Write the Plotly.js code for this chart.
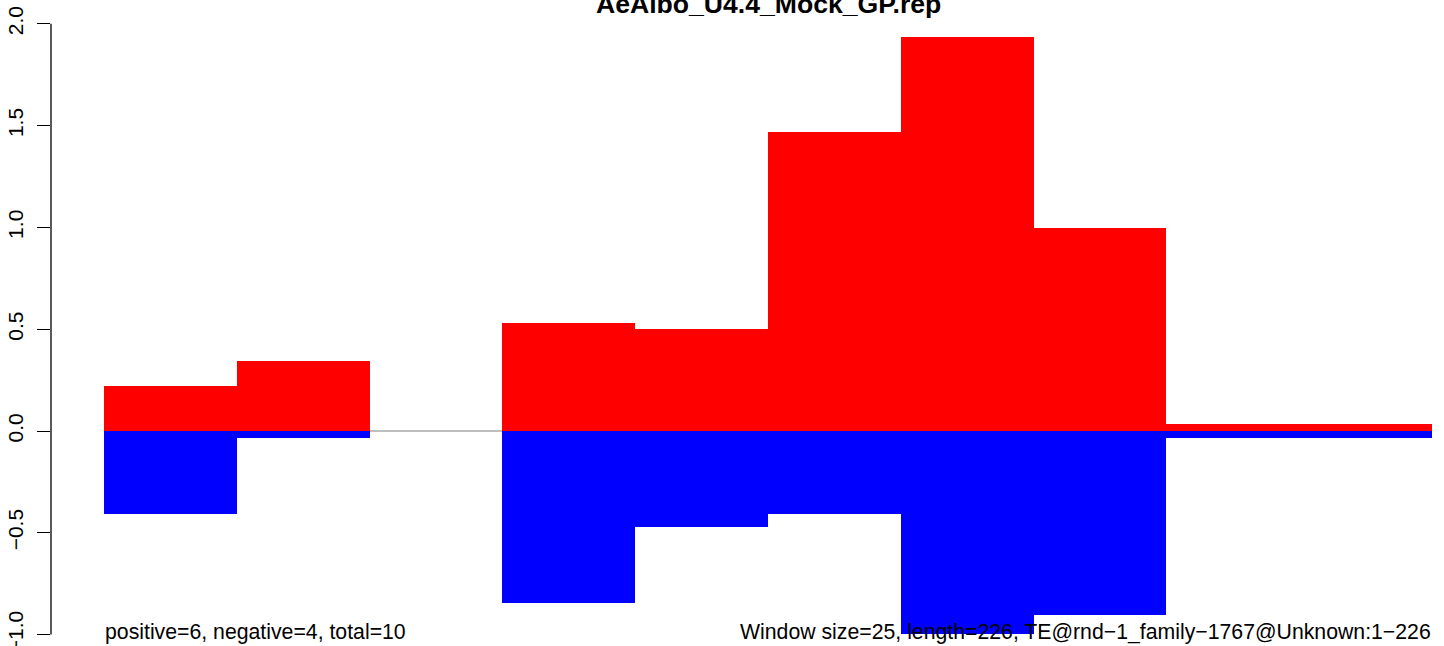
<!DOCTYPE html>
<html>
<head>
<meta charset="utf-8">
<script src="https://cdn.plot.ly/plotly-3.0.1.min.js"></script>
<style>html,body{margin:0;padding:0;background:#fff;}#chart{width:1444px;height:646px;}</style>
</head>
<body>
<div id="chart"></div>
<script>
// Window starts (sequence coordinates), window size 25
const windowStarts = [0, 25, 50, 75, 100, 125, 150, 175, 200, 225];
const windowSize = 25;
const positiveValues = [0.222, 0.345, 0, 0.530, 0.502, 1.469, 1.935, 0.997, 0.034, 0.034];
const negativeValues = [-0.408, -0.034, 0, -0.845, -0.470, -0.408, -0.997, -0.904, -0.033, -0.033];
const yTickValues = [-1, -0.5, 0, 0.5, 1, 1.5, 2];
const titleText = "AeAlbo_U4.4_Mock_GP.rep";
const leftNote = "positive=6, negative=4, total=10";
const rightNote = "Window size=25, length=226, TE@rnd\u22121_family\u22121767@Unknown:1\u2212226";

const centers = windowStarts.map(s => s + windowSize / 2);
const seqEnd = windowStarts[windowStarts.length - 1] + windowSize;

const font = "Liberation Sans, Arial, Helvetica, sans-serif";

const traces = [
  {
    type: "bar", x: centers, y: positiveValues, width: windowSize, base: 0,
    marker: {color: "#FF0000", line: {width: 0}}, hoverinfo: "skip", showlegend: false
  },
  {
    type: "bar", x: centers, y: negativeValues, width: windowSize, base: 0,
    marker: {color: "#0000FF", line: {width: 0}}, hoverinfo: "skip", showlegend: false
  }
];

const layout = {
  width: 1444, height: 646,
  margin: {l: 51, r: 0, t: 0, b: 0, pad: 0},
  paper_bgcolor: "#ffffff", plot_bgcolor: "#ffffff",
  barmode: "overlay", bargap: 0,
  showlegend: false,
  font: {family: font, color: "#000", size: 21},
  xaxis: {range: [-10, 252.26], visible: false, fixedrange: true},
  yaxis: {
    range: [-1.056, 2.117], showgrid: false, zeroline: false, showline: false,
    tickmode: "array", tickvals: yTickValues, tickformat: ".1f",
    ticks: "outside", ticklen: 13, tickwidth: 1, tickcolor: "#000",
    tickangle: -90, ticklabelstandoff: 6, ticklabeloverflow: "allow",
    tickfont: {family: font, size: 21, color: "#000"}, fixedrange: true
  },
  shapes: [
    {type: "line", xref: "paper", yref: "y", x0: 0, x1: 0, y0: yTickValues[0], y1: yTickValues[yTickValues.length - 1],
     line: {color: "#000", width: 1.3}},
    {type: "line", xref: "x", yref: "y", x0: windowStarts[0], x1: seqEnd, y0: 0, y1: 0,
     line: {color: "#808080", width: 1}, layer: "below"}
  ],
  annotations: [
    {text: "<b>" + titleText + "</b>", xref: "x", yref: "paper", x: (-10 + 260) / 2, y: 1,
     xanchor: "center", yanchor: "bottom", yshift: -20, showarrow: false, borderpad: 0,
     font: {family: font, size: 26.6, color: "#000"}},
    {text: leftNote, xref: "x", yref: "y", x: windowStarts[0], y: -1, xanchor: "left", yanchor: "middle",
     yshift: 3, showarrow: false, borderpad: 0, font: {family: font, size: 21.25, color: "#000"}},
    {text: rightNote, xref: "x", yref: "y", x: seqEnd, y: -1, xanchor: "right", yanchor: "middle",
     yshift: 3, showarrow: false, borderpad: 0, font: {family: font, size: 21.25, color: "#000"}}
  ]
};

Plotly.newPlot("chart", traces, layout, {staticPlot: true, displayModeBar: false});
</script>
</body>
</html>
